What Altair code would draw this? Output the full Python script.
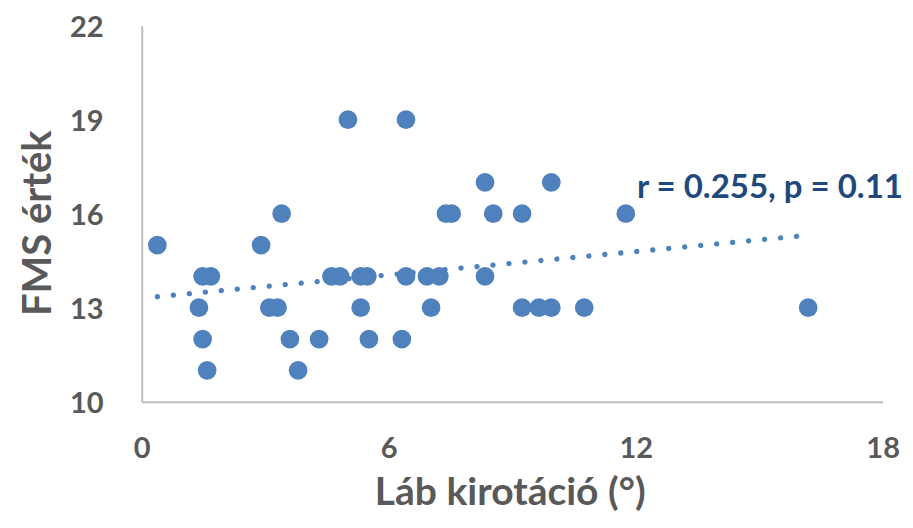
import altair as alt
import pandas as pd

# Láb kirotáció (°) and FMS érték
rotation = [0.38, 2.90,
            3.40, 7.39, 7.53, 8.54, 9.24, 11.76,
            8.34, 9.95,
            5.01, 6.42,
            1.48, 1.68, 4.61, 4.82, 5.32, 5.48, 6.42, 6.93, 7.23, 8.34,
            1.39, 3.10, 3.30, 5.32, 7.03, 9.24, 9.65, 9.95, 10.75, 16.19,
            1.48, 3.60, 4.31, 5.52, 6.32,
            1.59, 3.80]
fms = [15, 15,
       16, 16, 16, 16, 16, 16,
       17, 17,
       19, 19,
       14, 14, 14, 14, 14, 14, 14, 14, 14, 14,
       13, 13, 13, 13, 13, 13, 13, 13, 13, 13,
       12, 12, 12, 12, 12,
       11, 11]

trend_x = [0.38, 16.19]
trend_y = [13.35, 15.31]

note_text = ["r = 0.255, p = 0.11"]
note_x = [12.03]
note_y = [16.51]

x_ticks = [0, 6, 12, 18]
y_ticks = [10, 13, 16, 19, 22]

pts = pd.DataFrame({"x": rotation, "y": fms})
trend = pd.DataFrame({"x": trend_x, "y": trend_y})
note = pd.DataFrame({"x": note_x, "y": note_y, "t": note_text})

FONT = "Lato"
GRAY = "#595959"
BLUE = "#4F81BD"

xscale = alt.Scale(domain=[0, 18], nice=False, zero=False)
yscale = alt.Scale(domain=[10, 22], nice=False, zero=False)

xaxis = alt.Axis(values=x_ticks, title="Láb kirotáció (°)", grid=False, ticks=False, tickSize=0,
                 domainColor="#BFBFBF", domainWidth=2,
                 labelFont=FONT, labelFontSize=29, labelFontWeight="bold", labelColor=GRAY,
                 labelBaseline="alphabetic", labelPadding=56, labelFlush=False, labelOverlap=False,
                 titleFont=FONT, titleFontSize=39, titleFontWeight="bold", titleColor=GRAY,
                 titleBaseline="alphabetic", titleY=103, titleX=368, titleAlign="center")
yaxis = alt.Axis(values=y_ticks, title="FMS érték", grid=False, ticks=False, tickSize=0,
                 domainColor="#BFBFBF", domainWidth=2,
                 labelFont=FONT, labelFontSize=29, labelFontWeight="bold", labelColor=GRAY,
                 labelBaseline="alphabetic", labelOffset=10.4, labelPadding=38.7,
                 labelFlush=False, labelOverlap=False,
                 titleFont=FONT, titleFontSize=40, titleFontWeight="bold", titleColor=GRAY,
                 titleAngle=270, titleBaseline="alphabetic", titleAlign="center",
                 titleX=-91.7, titleY=197)

line = alt.Chart(trend).mark_line(color=BLUE, strokeWidth=5.3, strokeCap="round",
                                  strokeDash=[0.1, 15.95]).encode(
    x=alt.X("x:Q", scale=xscale, axis=xaxis),
    y=alt.Y("y:Q", scale=yscale, axis=yaxis),
)

dots = alt.Chart(pts).mark_circle(color=BLUE, opacity=1, size=350).encode(
    x=alt.X("x:Q", scale=xscale),
    y=alt.Y("y:Q", scale=yscale),
)

label = alt.Chart(note).mark_text(font=FONT, fontSize=33, fontWeight="bold", color="#1F497D",
                                  align="left", baseline="alphabetic").encode(
    x=alt.X("x:Q", scale=xscale),
    y=alt.Y("y:Q", scale=yscale),
    text="t:N",
)

chart = alt.layer(line, dots, label).properties(
    width=741, height=376,
    autosize=alt.AutoSizeParams(type="none"),
    padding={"left": 133.7, "top": 17.7, "right": 22, "bottom": 118},
    background="white",
).configure_view(stroke=None)

chart.save("out.html", embed_options={"renderer": "svg", "actions": False})
